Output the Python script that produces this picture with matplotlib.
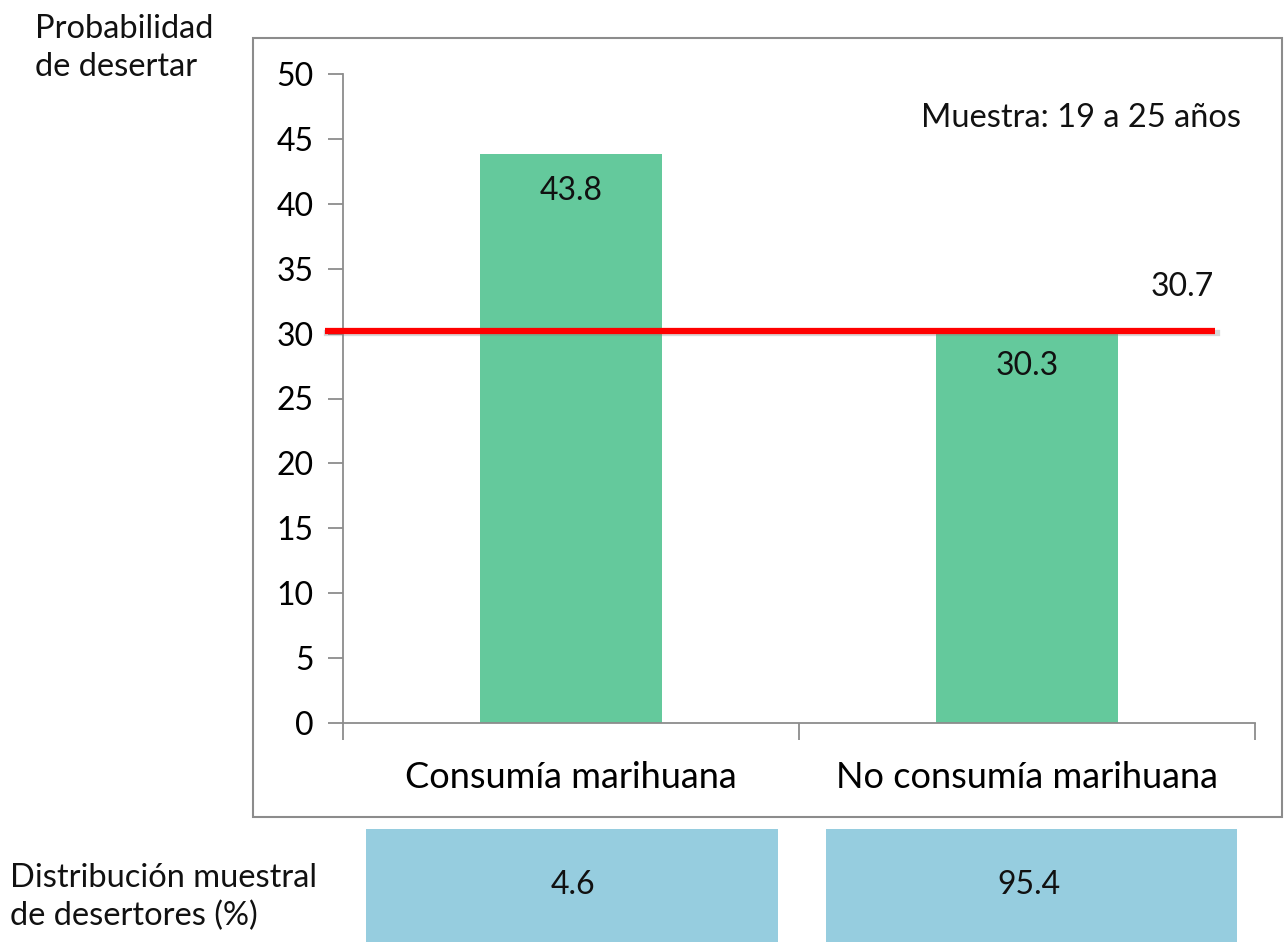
import numpy as np
import matplotlib.pyplot as plt
import matplotlib.transforms as mtransforms
from matplotlib.patches import Rectangle

plt.rcParams['font.family'] = ['Lato', 'DejaVu Sans']

categories = ['Consumía marihuana', 'No consumía marihuana']
prob_desertar = [43.8, 30.3]
linea_promedio = 30.2
etiqueta_promedio = '30.7'
distribucion = [4.6, 95.4]
yticks = np.arange(0, 55, 5)

W, H = 1288, 942
fig = plt.figure(figsize=(W / 100, H / 100), dpi=100)

# outer frame around the chart
fig.patches.append(Rectangle((253 / W, 1 - 817 / H), (1282 - 253) / W, (817 - 38) / H,
                             transform=fig.transFigure, fill=False,
                             edgecolor='#8c8c8c', linewidth=1.5))

ax = fig.add_axes([343 / W, 1 - 723 / H, (1255 - 343) / W, (723 - 74) / H])
x = np.arange(len(categories))
ax.bar(x, prob_desertar, width=0.4, color='#64C99C', zorder=2)
ax.set_xlim(-0.5, 1.5)
ax.set_ylim(0, 50)
ax.set_yticks(yticks)
ax.set_xticks(x)
ax.set_xticklabels(categories, fontsize=26)
ax.set_xticks([-0.5, 0.5, 1.5], minor=True)
ax.tick_params(axis='x', which='major', length=0, pad=27)
ax.tick_params(axis='x', which='minor', length=12, color='#8c8c8c', width=1.3)
ax.tick_params(axis='y', labelsize=23, length=11, color='#8c8c8c', width=1.3, pad=10)
for s in ['top', 'right']:
    ax.spines[s].set_visible(False)
for s in ['left', 'bottom']:
    ax.spines[s].set_color('#8c8c8c')
    ax.spines[s].set_linewidth(1.3)

for xi, v in zip(x, prob_desertar):
    ax.text(xi, v - 2.8, f'{v}', ha='center', va='center', fontsize=23, color='#111111', zorder=3)

# red average line with a soft shadow
shadow = ax.transData + mtransforms.ScaledTranslation(2 / 100, -2 / 100, fig.dpi_scale_trans)
ax.plot([-0.54, 1.412], [linea_promedio, linea_promedio], color='#7f7f7f', alpha=0.3,
        linewidth=4.5, clip_on=False, zorder=3, transform=shadow)
ax.plot([-0.54, 1.412], [linea_promedio, linea_promedio], color='#FF0000', linewidth=4.5,
        clip_on=False, zorder=4, solid_capstyle='butt')
ax.text(1.34, 33.6, etiqueta_promedio, ha='center', va='center', fontsize=23, color='#111111')
ax.text(1.47, 46.6, 'Muestra: 19 a 25 años', ha='right', va='center', fontsize=23.5, color='#111111')

fig.text(35 / W, 1 - 48 / H, 'Probabilidad\nde desertar', ha='left', va='center',
         fontsize=23.5, color='#111111', linespacing=1.3)

# bottom distribution boxes
ax2 = fig.add_axes([343 / W, 0, (1255 - 343) / W, (942 - 829) / H])
ax2.bar(x + np.array([0.003, 0.01]), [1, 1], width=0.903, color='#96CDDF', align='center')
ax2.set_xlim(-0.5, 1.5)
ax2.set_ylim(0, 1)
ax2.axis('off')
for xi, v in zip(x, distribucion):
    ax2.text(xi + 0.005, 0.5, f'{v}', ha='center', va='center', fontsize=23, color='#111111')

fig.text(10 / W, 1 - 897 / H, 'Distribución muestral\nde desertores (%)', ha='left', va='center',
         fontsize=23.5, color='#111111', linespacing=1.33)

fig.savefig('out.png', dpi=100)
